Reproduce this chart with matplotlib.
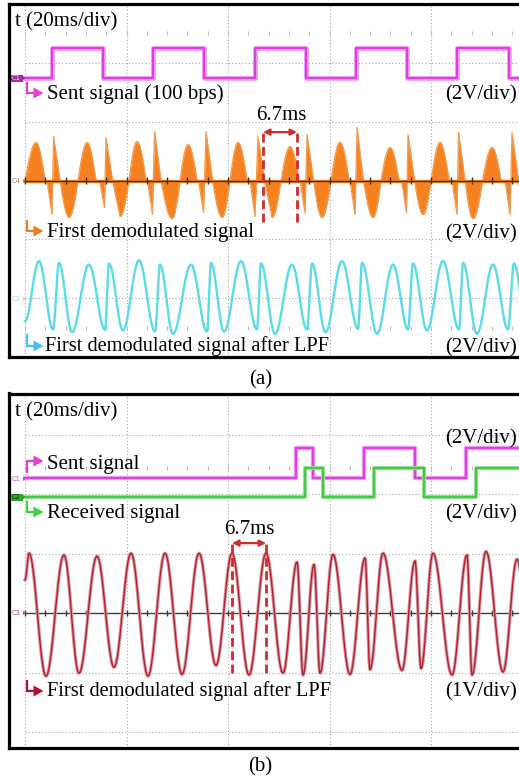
import numpy as np
import matplotlib
matplotlib.use("Agg")
import matplotlib.pyplot as plt
from matplotlib.lines import Line2D
from matplotlib.patches import Polygon, Rectangle

# ------------------------------------------------------------------ data
# time in ms (20 ms/div, 0 ms at first vertical graticule line), values in V
grid_t = [0, 20, 40, 60, 80]

# ---- panel (a)
# C1 sent signal (100 bps), 2 V/div
a_sent_t = [0.0, 5.3, 15.4, 25.2, 35.3, 45.3, 55.4, 65.2, 75.3, 85.2, 95.3]
a_sent_v = [0, 1, 0, 1, 0, 1, 0, 1, 0, 1, 0]

# C4 first demodulated signal: envelope points (lobe edges and tips), 2 V/div
a_demod_t = [0.00, 2.17, 3.94, 4.33, 5.32, 5.62, 6.90, 8.67, 10.44,
             12.22, 13.99, 14.68, 15.67, 15.96, 17.24, 18.72, 20.49,
             22.07, 23.84, 24.14, 25.12, 25.52, 26.80, 28.97, 30.54,
             32.12, 33.89, 34.19, 35.17, 35.67, 36.95, 38.82, 40.39,
             41.97, 43.74, 44.33, 45.32, 45.91, 47.19, 48.67, 50.44,
             52.22, 53.99, 54.19, 55.17, 55.57, 56.85, 58.52, 60.30,
             62.07, 63.84, 64.04, 65.02, 65.42, 66.70, 68.57, 70.15,
             71.92, 73.69, 74.19, 75.17, 75.47, 76.75, 78.42, 80.00,
             81.77, 83.55, 84.14, 85.12, 85.42, 86.70, 88.28, 90.15,
             92.02, 93.79, 94.58, 95.57, 95.96, 97.24, 98.92, 100.5]
a_demod_v = [0.00, 1.29, 0.0, 0.0, -1.15, 1.50, 0.0, -1.25, 0.0,
             1.29, 0.0, 0.0, -0.92, 1.46, 0.0, -1.22, 0.0,
             1.32, 0.0, 0.0, -1.15, 1.66, 0.0, -1.29, 0.0,
             1.22, 0.0, 0.0, -1.09, 1.66, 0.0, -1.25, 0.0,
             1.29, 0.0, 0.0, -1.22, 1.49, 0.0, -1.25, 0.0,
             1.15, 0.0, 0.0, -1.10, 1.56, 0.0, -1.25, 0.0,
             1.30, 0.0, 0.0, -1.15, 1.80, 0.0, -1.25, 0.0,
             1.12, 0.0, 0.0, -1.10, 1.56, 0.0, -1.15, 0.0,
             1.29, 0.0, 0.0, -1.15, 1.63, 0.0, -1.29, 0.0,
             1.12, 0.0, 0.0, -1.15, 1.63, 0.0, -1.20, 0.0]

# C3 first demodulated signal after LPF (extremes), 2 V/div
a_lpf_t = [0.00, 2.76, 5.52, 6.70, 9.26, 12.61, 15.76, 16.55, 19.31, 22.46,
           25.62, 26.60, 29.16, 32.71, 35.86, 36.65, 39.21, 42.56, 45.71, 46.50,
           49.26, 52.61, 55.57, 56.55, 59.21, 62.46, 65.62, 66.40, 69.36, 72.51,
           75.47, 76.45, 79.21, 82.36, 85.52, 86.31, 89.06, 92.22, 95.17, 96.35, 99.0]
a_lpf_v = [-0.77, 1.27, -1.05, 1.21, -1.14, 1.15, -1.05, 1.19, -1.08, 1.30,
           -1.12, 1.15, -1.20, 1.15, -1.12, 1.21, -1.12, 1.27, -1.05, 1.19,
           -1.20, 1.15, -1.05, 1.19, -1.14, 1.27, -1.03, 1.21, -1.20, 1.15,
           -1.05, 1.19, -1.08, 1.27, -1.05, 1.21, -1.20, 1.15, -1.05, 1.19, -1.10]

# ---- panel (b)
b_sent_t = [0.0, 53.4, 56.8, 66.8, 76.8, 86.9]
b_sent_v = [0, 1, 0, 1, 0, 1]
b_recv_t = [0.0, 55.2, 58.8, 68.8, 78.7, 88.9]
b_recv_v = [0, 1, 0, 1, 0, 1]

# C3 first demodulated signal after LPF (extremes), 1 V/div
b_lpf_t = [0.0, 0.79, 4.14, 7.68, 10.64, 14.19, 17.54, 20.89, 24.24, 27.59,
           30.94, 34.29, 37.64, 40.79, 44.14, 47.49, 50.84, 53.60, 54.78, 56.95,
           58.13, 60.69, 64.04, 67.00, 67.98, 70.54, 74.29, 76.85, 78.03, 80.39,
           84.14, 87.09, 88.08, 90.84, 94.19, 96.95, 99.5]
b_lpf_v = [0.56, 1.01, -1.06, 0.98, -1.01, 0.96, -0.91, 1.01, -1.06, 1.01,
           -1.03, 1.01, -0.88, 1.01, -1.04, 1.01, -1.01, 0.86, -1.04, 0.82,
           -1.01, 0.99, -1.03, 0.93, -0.95, 1.01, -0.96, 0.88, -0.93, 1.01,
           -1.04, 0.98, -1.04, 1.04, -0.99, 0.91, -0.60]

# 6.7 ms markers (ms)
a_mark_t = [46.9, 53.6]
b_mark_t = [40.8, 47.5]

# ------------------------------------------------------------------ helpers
W, H = 519, 780
PX_MS = 101.5 / 20.0
X0 = 25.0
SERIF = "Liberation Serif"


def through_extrema(t, v, n=24):
    t = np.asarray(t, float)
    v = np.asarray(v, float)
    s = np.linspace(0, 1, n, endpoint=False)
    w = 0.5 - 0.5 * np.cos(np.pi * s)
    tt = (t[:-1, None] + np.diff(t)[:, None] * s).ravel()
    vv = (v[:-1, None] + np.diff(v)[:, None] * w).ravel()
    return np.append(tt, t[-1]), np.append(vv, v[-1])


def lobes(t, v, n=20, wide=1.5):
    """Render envelope: wide lobe halves as quarter-sine arcs, spikes linear."""
    out_t, out_v = [], []
    s = np.linspace(0, 1, n, endpoint=False)
    for i in range(len(t) - 1):
        t0, t1, v0, v1 = t[i], t[i + 1], v[i], v[i + 1]
        if t1 - t0 >= wide and v0 == 0 and v1 != 0:
            w = np.sin(np.pi / 2 * s)
        elif t1 - t0 >= wide and v1 == 0 and v0 != 0:
            w = 1 - np.cos(np.pi / 2 * s)
        else:
            w = s
        out_t.extend(t0 + (t1 - t0) * s)
        out_v.extend(v0 + (v1 - v0) * w)
    out_t.append(t[-1])
    out_v.append(v[-1])
    return np.array(out_t), np.array(out_v)


def rect(l, t, r, b):
    return [l / W, 1 - b / H, (r - l) / W, (b - t) / H]


def fx(x):
    return x / W


def fy(y):
    return 1 - y / H


fig = plt.figure(figsize=(W / 100, H / 100), dpi=100)
fig.patch.set_facecolor("white")

XR = 545
axA = fig.add_axes(rect(9, 3.5, XR, 357.5))
axB = fig.add_axes(rect(9, 393.5, XR, 748))
xlim = ((9 - X0) / PX_MS, (XR - X0) / PX_MS)
axA.set_ylim(0, 6)
axB.set_ylim(0.7306, 6.699)

GRID_C = "#A6A6A6"
for ax, hl in ((axA, [1, 2, 4, 5]), (axB, [1, 2, 4, 5, 6])):
    ax.set_xlim(*xlim)
    ax.set_xticks([])
    ax.set_yticks([])
    for s in ax.spines.values():
        s.set_linewidth(2.3)
        s.set_color("black")
    for t in grid_t:
        ax.axvline(t, color=GRID_C, lw=0.8, ls=(0, (1, 2)), zorder=1)
    for y in hl:
        ax.plot([0, xlim[1]], [y, y], color=GRID_C, lw=0.8, ls=(0, (1, 2)), zorder=1)

minor_t = np.arange(0, xlim[1], 4.0)
for ax, rows in ((axA, [5.5, 0.5]), (axB, [5.45])):
    for y in rows:
        ax.plot(minor_t, [y] * len(minor_t), ls="none", marker="|", ms=2.5,
                mew=0.8, color="#BDBDBD", zorder=1)

# ---- panel (a) traces
MAG = "#E03FE0"
OFF_A1, OFF_A4, OFF_A3 = 4.74, 3.0, 1.0
st = list(a_sent_t) + [xlim[1]]
sv = list(a_sent_v) + [a_sent_v[-1]]
axA.step(st, [OFF_A1 + v / 2.0 for v in sv], where="post", color="#EE9AEE", lw=3.4, zorder=3)
axA.step(st, [OFF_A1 + v / 2.0 for v in sv], where="post", color=MAG, lw=1.6, zorder=3)

ORG = "#F5821F"
tt, vv = lobes(a_demod_t, a_demod_v)
dv = OFF_A4 + vv / 2.0
axA.fill_between(tt, OFF_A4, dv, color=ORG, lw=0, zorder=3)
axA.plot(tt, dv, color="#F39A50", lw=0.9, zorder=3)
axA.plot([0, xlim[1]], [OFF_A4, OFF_A4], color=ORG, lw=2.4, zorder=3)
axA.plot([0, xlim[1]], [OFF_A4, OFF_A4], color="#4A2C1C", lw=1.0, zorder=4)
axA.vlines(minor_t, OFF_A4 - 0.055, OFF_A4 + 0.055, color="#4A2C1C", lw=1.0, zorder=4)

CYN = "#5ADBE6"
tt, vv = through_extrema(a_lpf_t, a_lpf_v)
axA.plot(tt, OFF_A3 + vv / 2.0, color=CYN, lw=1.7, zorder=3)

RED = "#D52A2A"
for t in a_mark_t:
    axA.plot([t, t], [2.29, 3.87], color=RED, lw=2.0, ls=(0, (3.2, 1.6)), zorder=5)
axA.annotate("", xy=(a_mark_t[1], 3.82), xytext=(a_mark_t[0], 3.82),
             arrowprops=dict(arrowstyle="<|-|>", color=RED, lw=1.6,
                             mutation_scale=9, shrinkA=0, shrinkB=0), zorder=5)

# ---- panel (b) traces
OFF_B1, OFF_B2, OFF_B3 = 5.28, 4.95, 3.0
st = list(b_sent_t) + [xlim[1]]
sv = list(b_sent_v) + [b_sent_v[-1]]
axB.step(st, [OFF_B1 + v / 2.0 for v in sv], where="post", color="#EE9AEE", lw=3.2, zorder=3)
axB.step(st, [OFF_B1 + v / 2.0 for v in sv], where="post", color=MAG, lw=1.5, zorder=3)

GRN = "#45C845"
st = list(b_recv_t) + [xlim[1]]
sv = list(b_recv_v) + [b_recv_v[-1]]
axB.step(st, [OFF_B2 + v / 2.0 for v in sv], where="post", color="#9BE09B", lw=3.0, zorder=3)
axB.step(st, [OFF_B2 + v / 2.0 for v in sv], where="post", color=GRN, lw=1.5, zorder=3)

axB.plot([0, xlim[1]], [OFF_B3, OFF_B3], color="#3A3A3A", lw=1.0, zorder=2)
axB.vlines(minor_t, OFF_B3 - 0.055, OFF_B3 + 0.055, color="#3A3A3A", lw=1.0, zorder=2)

tt, vv = through_extrema(b_lpf_t, b_lpf_v)
axB.plot(tt, OFF_B3 + vv, color="#D99AA2", lw=2.4, zorder=3)
axB.plot(tt, OFF_B3 + vv, color="#B41E2E", lw=1.0, zorder=3)

for t in b_mark_t:
    axB.plot([t, t], [1.99, 4.18], color=RED, lw=2.0, ls=(0, (3.2, 1.6)), zorder=5)
axB.annotate("", xy=(b_mark_t[1], 4.18), xytext=(b_mark_t[0], 4.18),
             arrowprops=dict(arrowstyle="<|-|>", color=RED, lw=1.6,
                             mutation_scale=9, shrinkA=0, shrinkB=0), zorder=5)


# ------------------------------------------------------------------ annotations
def ftext(x, y, s, ha="left", size=15, color="black"):
    fig.text(fx(x), fy(y), s, ha=ha, va="baseline", fontsize=size,
             family=SERIF, color=color, zorder=6)


def larrow(y0, y1, color, x=27.0, tip=43.5):
    fig.add_artist(Line2D([fx(x), fx(x), fx(tip - 9)], [fy(y0), fy(y1), fy(y1)],
                          transform=fig.transFigure, color=color, lw=1.6,
                          solid_joinstyle="miter", solid_capstyle="butt", zorder=6))
    fig.add_artist(Polygon([(fx(tip - 10), fy(y1 - 5.5)), (fx(tip), fy(y1)),
                            (fx(tip - 10), fy(y1 + 5.5))], closed=True,
                           transform=fig.transFigure, color=color, lw=0, zorder=6))


def chan(y, label, color, box=None, tcolor=None):
    if box is not None:
        fig.add_artist(Rectangle((fx(11), fy(y + 3.5)), 12 / W, 7 / H,
                                 transform=fig.transFigure, color=box, lw=0, zorder=6))
    fig.text(fx(12), fy(y), label, ha="left", va="center", fontsize=4.8,
             family="DejaVu Sans", color=tcolor or color, zorder=7)
    fig.add_artist(Polygon([(fx(23), fy(y - 2)), (fx(25.5), fy(y)), (fx(23), fy(y + 2))],
                           closed=True, transform=fig.transFigure, color=color,
                           lw=0, zorder=6))


# panel (a)
ftext(15, 26, "t (20ms/div)")
larrow(82, 93, "#E53FCF")
ftext(47, 98.5, "Sent signal (100 bps)")
ftext(517, 99.5, "(2V/div)", ha="right")
ftext(281, 120, "6.7ms", ha="center")
larrow(220, 231, "#EF7D22")
ftext(47, 237.5, "First demodulated signal")
ftext(517, 238, "(2V/div)", ha="right")
larrow(334, 346, "#4DC0EE")
ftext(45, 351, "First demodulated signal after LPF", size=14.7)
ftext(517, 352, "(2V/div)", ha="right")
ftext(261, 384, "(a)", ha="center")

# panel (b)
ftext(15, 416, "t (20ms/div)")
ftext(517, 443, "(2V/div)", ha="right")
larrow(473, 461, "#E53FCF")
ftext(47, 469, "Sent signal")
larrow(501, 512, "#3DD040")
ftext(47, 518, "Received signal")
ftext(517, 518, "(2V/div)", ha="right")
ftext(249, 534, "6.7ms", ha="center")
larrow(680, 691, "#B0103A")
ftext(47, 696, "First demodulated signal after LPF", size=14.7)
ftext(517, 696, "(1V/div)", ha="right")
ftext(260, 771, "(b)", ha="center")

# channel markers
chan(78, "C1", "#A030A0", box="#A030A0", tcolor="#F6C8F6")
chan(181, "C4", "#B07860")
chan(299, "C3", "#A8D4DC")
chan(479, "C1", "#C050C0")
chan(497, "C2", "#2EA82E", box="#2EA82E", tcolor="#0B3A0B")
chan(613, "C3", "#B04858")

fig.savefig("out.png", dpi=100)
